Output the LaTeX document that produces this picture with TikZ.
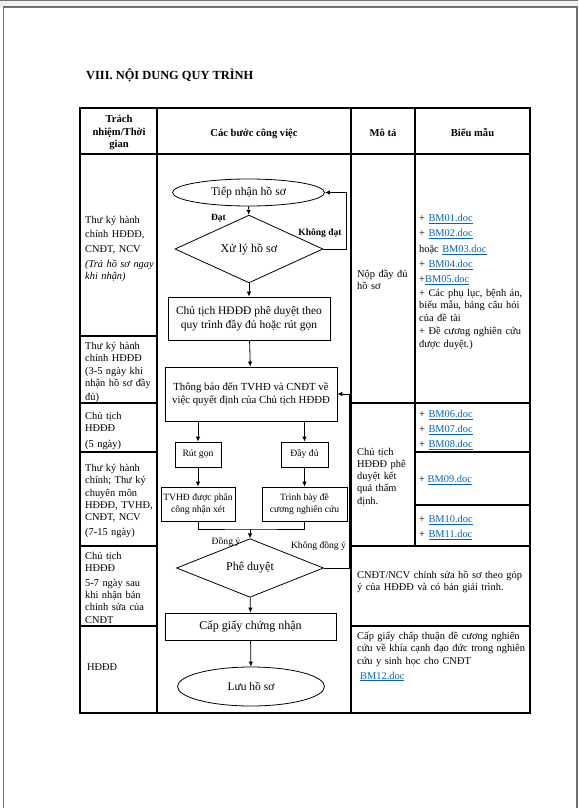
\documentclass[tikz,border=0pt]{standalone}
\usepackage{fontspec}
\setmainfont{Liberation Serif}
\usetikzlibrary{arrows.meta,shapes.geometric}

\definecolor{linkblue}{RGB}{5,99,193}
\definecolor{framegray}{RGB}{112,112,112}
\newcommand{\bmlink}[1]{{\color{linkblue}\underline{#1}}}
\newcommand{\fullline}[1]{\makebox[\linewidth][s]{#1}}

\begin{document}
\begin{tikzpicture}[x=1pt, y=-1pt,
    every node/.style={inner sep=0pt},
    cell/.style={anchor=base west, align=left, font=\fontsize{10.4}{12.3}\selectfont},
    head/.style={anchor=base, align=center, font=\bfseries\fontsize{10.6}{12.3}\selectfont},
    stepbox/.style={rectangle, draw=black, line width=0.8pt, align=center},
    decision/.style={diamond, draw=black, line width=0.8pt, font=\fontsize{12}{14}\selectfont},
    terminal/.style={ellipse, draw=black, line width=0.8pt},
    lbl/.style={font=\fontsize{9.6}{11}\selectfont},
    lblbold/.style={font=\bfseries\fontsize{9.5}{11}\selectfont},
    arrow/.style={-{Latex[length=5pt,width=4.5pt]}, line width=0.8pt},
    grid/.style={line width=1.1pt}]

    % page
    \useasboundingbox (0,0) rectangle (578,808);
    \fill[gray!12] (0,0) rectangle (578,7);
    \draw[framegray, line width=1pt] (0,0.5) -- (578,0.5);
    \draw[framegray, line width=1.2pt] (3.5,808) -- (3.5,7) -- (577,7) -- (577,808);

    \node (title) [anchor=base west, font=\bfseries\fontsize{12.4}{14}\selectfont] at (86,79) {VIII. NỘI DUNG QUY TRÌNH};

    % table
    \draw[grid] (80,108) rectangle (530,713);
    \draw[grid] (80,154) -- (530,154);
    \foreach \x/\yb in {157/713, 351/713, 415/546}
        \draw[grid] (\x,108) -- (\x,\yb);
    \foreach \y in {336,403,452,546,626}
        \draw[grid] (80,\y) -- (157,\y);
    \foreach \y in {403,546,626}
        \draw[grid] (351,\y) -- (530,\y);
    \foreach \y in {452,505}
        \draw[grid] (415,\y) -- (530,\y);

    \node (hresp) [head, anchor=center] at (119,132.5) {Trách\\nhiệm/Thời\\gian};
    \node (hsteps) [head] at (254,136.5) {Các bước công việc};
    \node (hdesc) [head] at (383,136.5) {Mô tả};
    \node (hform) [head] at (472.5,136.5) {Biểu mẫu};

    % responsibility column
    \node (resp1) [cell, text width=66.5pt] at (85,223.5) {\fullline{Thư ký hành}\\[2pt]
        \fullline{chính HĐĐĐ,}\\[2pt] CNĐT, NCV\\[3pt]
        \textit{\fullline{(Trả hồ sơ ngay}}\\ \textit{khi nhận)}};
    \node (resp2) [cell, text width=66.5pt] at (85,349) {\fullline{Thư ký hành}\\ chính HĐĐĐ\\[1pt]
        \fullline{(3-5 ngày khi}\\ \fullline{nhận hồ sơ đầy}\\[1pt] đủ)};
    \node (resp3) [cell, text width=66.5pt] at (85,419) {\fullline{Chủ tịch}\\ HĐĐĐ\\[3.7pt] (5 ngày)};
    \node (resp4) [cell, text width=66.5pt] at (85,471.5) {\fullline{Thư ký hành}\\ \fullline{chính; Thư ký}\\
        \fullline{chuyên môn}\\ \fullline{HĐĐĐ, TVHĐ,}\\ CNĐT, NCV\\[2.7pt] (7-15 ngày)};
    \node (resp5) [cell, text width=66.5pt] at (85,559) {\fullline{Chủ tịch}\\ HĐĐĐ\\[2.7pt]
        \fullline{5-7 ngày sau}\\ \fullline{khi nhận bản}\\ \fullline{chỉnh sửa của}\\ CNĐT};
    \node (resp6) [cell] at (87,670) {HĐĐĐ};

    % description column
    \node (desc1) [cell, text width=53pt] at (357,277) {\fullline{Nộp đầy đủ}\\ hồ sơ};
    \node (desc2) [cell, text width=52pt] at (357,455) {\fullline{Chủ tịch}\\ \fullline{HĐĐĐ phê}\\
        \fullline{duyệt kết}\\ \fullline{quả thẩm}\\ định.};
    \node (desc3) [cell, text width=167pt] at (357,578.5) {\fullline{CNĐT/NCV chỉnh sửa hồ sơ theo góp}\\
        ý của HĐĐĐ và có bản giải trình.};
    \node (desc4) [cell, text width=167pt] at (357,639.5) {\fullline{Cấp giấy chấp thuận đề cương nghiên}\\
        \fullline{cứu về khía cạnh đạo đức trong nghiên}\\ cứu y sinh học cho CNĐT\\[2.7pt]
        \hspace*{3pt}\bmlink{BM12.doc}};

    % forms column
    \node (form1) [cell, text width=105pt] at (419,221.5) {+ \bmlink{BM01.doc}\\[2.7pt]
        + \bmlink{BM02.doc}\\[3.7pt] hoặc \bmlink{BM03.doc}\\[2.7pt]
        + \bmlink{BM04.doc}\\[2.7pt] +\bmlink{BM05.doc}\\[1.7pt]
        \fullline{+ Các phụ lục, bệnh án,}\\ \fullline{biểu mẫu, bảng câu hỏi}\\[0.7pt]
        của đề tài\\ \fullline{+ Đề cương nghiên cứu}\\[0.7pt] được duyệt.)};
    \node (form2) [cell, text width=105pt] at (419,417.5) {+ \bmlink{BM06.doc}\\[2.7pt]
        + \bmlink{BM07.doc}\\[2.7pt] + \bmlink{BM08.doc}};
    \node (form3) [cell] at (419,482.5) {+ \bmlink{BM09.doc}};
    \node (form4) [cell, text width=105pt] at (419,522.5) {+ \bmlink{BM10.doc}\\[2.7pt] + \bmlink{BM11.doc}};

    % flowchart
    \node (tiepnhan) [terminal, minimum width=152pt, minimum height=27pt,
        font=\fontsize{11.7}{14}\selectfont] at (248.5,192.5) {Tiếp nhận hồ sơ};
    \node (xuly) [decision, minimum width=148pt, minimum height=46pt] at (249,249) {Xử lý hồ sơ};
    \node (chutich) [stepbox, minimum width=162pt, minimum height=43pt,
        font=\fontsize{11.5}{14}\selectfont] at (249,318.5) {Chủ tịch HĐĐĐ phê duyệt theo\\quy trình đầy đủ hoặc rút gọn};
    \node (thongbao) [stepbox, minimum width=172pt, minimum height=54pt,
        font=\fontsize{10.8}{13}\selectfont] at (251,394) {Thông báo đến TVHĐ và CNĐT về\\việc quyết định của Chủ tịch HĐĐĐ};
    \node (rutgon) [stepbox, minimum width=46pt, minimum height=25pt,
        font=\fontsize{9.7}{12}\selectfont] at (198,454.5) {Rút gọn};
    \node (daydu) [stepbox, minimum width=47pt, minimum height=25pt,
        font=\fontsize{9.7}{12}\selectfont] at (304.5,454.5) {Đầy đủ};
    \node (tvhd) [stepbox, minimum width=74pt, minimum height=34pt,
        font=\fontsize{9.6}{11.8}\selectfont] at (198,504) {TVHĐ được phân\\công nhận xét};
    \node (trinhbay) [stepbox, minimum width=85pt, minimum height=34pt,
        font=\fontsize{9.6}{11.8}\selectfont] at (304.5,504) {Trình bày đề\\cương nghiên cứu};
    \node (pheduyet) [decision, minimum width=147pt, minimum height=46pt] at (250,568) {Phê duyệt};
    \node (capgiay) [stepbox, minimum width=171pt, minimum height=27pt,
        font=\fontsize{12}{14}\selectfont] at (250.5,626.5) {Cấp giấy chứng nhận};
    \node (luu) [terminal, minimum width=147pt, minimum height=39pt,
        font=\fontsize{11.5}{14}\selectfont] at (251,686.5) {Lưu hồ sơ};

    \coordinate (loopA) at ([xshift=21.5pt]tiepnhan.east);
    \coordinate (loopB) at ([xshift=12pt]thongbao.east);
    \coordinate (merge) at (250,529);

    \draw[arrow] (tiepnhan) -- (xuly);
    \draw[arrow] (xuly.east) -| (loopA) -- (tiepnhan.east);
    \draw[arrow] (xuly) -- (chutich);
    \draw[arrow] (chutich) -- (thongbao);
    \draw[arrow] (thongbao.south -| rutgon.north) -- (rutgon.north);
    \draw[arrow] (thongbao.south -| daydu.north) -- (daydu.north);
    \draw[arrow] (rutgon) -- (tvhd);
    \draw[arrow] (daydu) -- (trinhbay);
    \draw[line width=0.8pt] (tvhd.south) |- (merge) -| (trinhbay.south);
    \draw[arrow] (merge) -- (pheduyet.north);
    \draw[arrow] (pheduyet.east) -| (loopB) -- (thongbao.east);
    \draw[arrow] (pheduyet) -- (capgiay);
    \draw[arrow] (capgiay) -- (luu);

    \node (dat) [lblbold] at (218.5,218) {Đạt};
    \node (khongdat) [lblbold] at (320,233) {Không đạt};
    \node (dongy) [lbl] at (226,542) {Đồng ý};
    \node (khongdongy) [lbl] at (318.5,546) {Không đồng ý};
\end{tikzpicture}
\end{document}
